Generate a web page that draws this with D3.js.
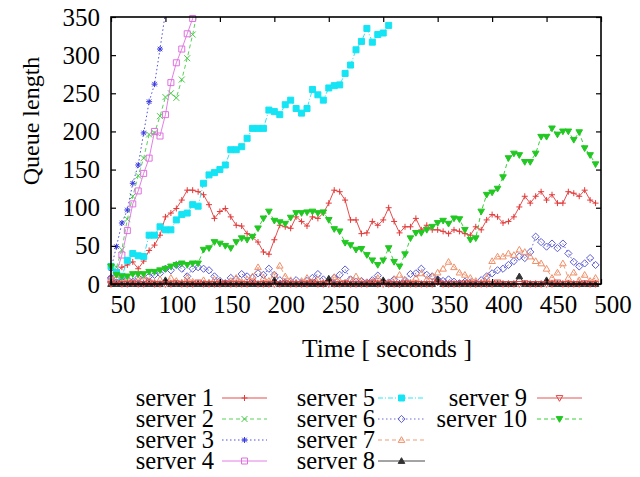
<!DOCTYPE html>
<html><head><meta charset="utf-8"><script src="https://cdn.jsdelivr.net/npm/d3@7"></script></head>
<body style="margin:0">
<svg id="chart" width="640" height="477"></svg>
<script>
// ---------------- DATA ----------------
const times = [50,55,60,65,70,75,80,85,90,95,100,105,110,115,120,125,130,135,140,145,
  150,155,160,165,170,175,180,185,190,195,200,205,210,215,220,225,230,235,240,245,
  250,255,260,265,270,275,280,285,290,295,300,305,310,315,320,325,330,335,340,345,
  350,355,360,365,370,375,380,385,390,395,400,405,410,415,420,425,430,435,440,445,
  450,455,460,465,470,475,480,485,490,495];

const xTicks = [50,100,150,200,250,300,350,400,450,500];
const yTicks = [0,50,100,150,200,250,300,350];

const server1 = [10,15,22,25,29,20,30,44,51,64,88,93,99,110,123,123,121,117,104,86,
  95,99,88,77,76,66,61,55,42,39,58,77,75,73,88,82,76,88,86,93,
  106,123,121,110,84,84,66,67,82,77,84,100,82,67,75,75,86,71,77,71,
  71,69,66,71,69,66,64,75,71,84,91,88,80,82,88,101,115,106,115,121,
  110,117,106,106,121,119,115,123,110,106];
const server2 = [5,22,45,85,115,142,165,196,198,220,245,250,244,268,296,327,362];
const server3 = [20,49,80,97,132,156,198,239,262,308,356];
const server4 = [5,15,38,70,105,122,145,165,200,194,222,264,290,308,328,348,378];
const server5 = [23,15,10,31,40,37,36,64,64,75,71,71,84,91,93,104,102,132,143,146,
  150,156,176,176,180,191,204,204,204,228,226,222,235,241,230,224,230,255,248,241,
  257,260,261,276,287,307,318,335,317,327,329,339];
const server6 = [8,2,3,6,3,8,5,10,12,14,20,18,25,20,10,20,22,20,18,10,
  4,1,8,6,13,10,8,14,12,20,12,5,2,3,5,1,4,8,13,6,
  3,8,12,19,6,3,4,2,5,11,3,2,6,0,5,13,14,20,12,10,
  6,4,6,3,1,3,2,1,5,10,14,18,20,25,30,36,34,42,62,55,
  49,53,47,53,40,29,23,27,34,25];
const server7 = [5,12,3,8,2,6,10,4,2,6,3,8,4,2,8,3,1,5,2,6,
  3,1,4,8,3,6,10,22,8,4,12,24,10,5,2,4,8,3,6,2,
  5,9,4,2,6,10,4,2,3,8,4,2,6,12,5,2,8,14,6,10,
  15,20,29,22,15,12,8,4,2,8,30,36,36,40,38,45,42,36,30,27,
  20,8,15,27,8,15,5,12,4,8];
const server8 = [0,0,0,0,0,0,0,0,0,0,5,0,0,0,0,0,0,0,0,0,
  0,0,0,0,0,0,0,0,0,0,5,0,0,0,0,0,0,0,0,0,
  7,0,0,0,0,0,0,0,0,0,5,0,0,0,0,0,0,0,0,0,
  6,0,0,0,0,0,0,0,0,0,0,0,0,0,0,10,0,0,0,0,
  5,0,0,0,0,0,0,0,0,0];
const server9 = [0,2,0,0,1,0,0,2,0,0,0,0,1,0,0,0,2,0,0,0,
  0,1,0,0,0,0,2,0,0,0,0,0,1,0,0,0,0,2,0,0,
  0,0,0,1,0,0,0,0,2,0,0,0,0,0,1,0,0,0,0,0,
  2,0,0,0,0,1,0,0,0,0,0,2,0,0,0,0,1,0,0,0,
  0,0,2,0,0,0,0,1,0,0];
const server10 = [23,12,10,10,13,13,13,16,16,18,20,23,25,27,25,27,27,45,47,55,
  53,50,47,55,60,58,62,73,86,95,83,81,79,87,93,93,94,95,93,94,
  84,72,69,54,51,45,46,38,31,25,31,47,29,23,39,60,67,67,71,75,
  80,83,79,86,85,71,58,60,95,117,120,125,140,165,171,169,160,160,171,193,
  193,204,196,200,200,189,199,178,169,157];

const seriesNames = ["server 1","server 2","server 3","server 4","server 5",
  "server 6","server 7","server 8","server 9","server 10"];
const seriesValues = [server1,server2,server3,server4,server5,server6,server7,server8,server9,server10];

// ---------------- STYLES ----------------
const FONT = "'Liberation Serif'";
const styles = [
  {color:"#e23a3a", dash:null,        marker:"plus"},
  {color:"#46cc46", dash:"4,3",       marker:"cross"},
  {color:"#3a3ae0", dash:"1.5,2.5",   marker:"star"},
  {color:"#e070e0", dash:null,        marker:"square"},
  {color:"#14e4f4", dash:"5,2,1,2",   marker:"squareFilled"},
  {color:"#5c5cd4", dash:"1.5,2.5",   marker:"diamond"},
  {color:"#f0906a", dash:"4,3",       marker:"triangle"},
  {color:"#333333", dash:null,        marker:"triangleFilled"},
  {color:"#e04444", dash:null,        marker:"invTriangle"},
  {color:"#22c822", dash:"4,3",       marker:"invTriangleFilled"}
];

function markerPath(type, r) {
  switch (type) {
    case "plus": return `M${-r},0H${r}M0,${-r}V${r}`;
    case "cross": return `M${-r},${-r}L${r},${r}M${-r},${r}L${r},${-r}`;
    case "star": { const q = r*0.75; return `M${-r},0H${r}M0,${-r}V${r}M${-q},${-q}L${q},${q}M${-q},${q}L${q},${-q}`; }
    case "square": case "squareFilled": return `M${-r},${-r}H${r}V${r}H${-r}Z`;
    case "diamond": return `M0,${-r*1.2}L${r*1.2},0L0,${r*1.2}L${-r*1.2},0Z`;
    case "triangle": case "triangleFilled": return `M0,${-r*1.1}L${r*1.1},${r*0.8}L${-r*1.1},${r*0.8}Z`;
    case "invTriangle": case "invTriangleFilled": return `M0,${r*1.1}L${r*1.1},${-r*0.8}L${-r*1.1},${-r*0.8}Z`;
  }
}
function isFilled(type){ return type==="squareFilled"||type==="triangleFilled"||type==="invTriangleFilled"; }

// ---------------- LAYOUT ----------------
const svg = d3.select("#chart");
svg.append("rect").attr("width",640).attr("height",477).attr("fill","#fff");

const L = 111, R = 601, T = 17, B = 284;
const x = d3.scaleLinear().domain([50,500]).range([L,R]);
const y = d3.scaleLinear().domain([0,350]).range([B,T]);

svg.append("defs").append("clipPath").attr("id","plotclip")
  .append("rect").attr("x",L).attr("y",T).attr("width",R-L).attr("height",B-T);

const plot = svg.append("g");
const line = d3.line().x(d=>x(d.t)).y(d=>y(d.v));

seriesValues.forEach((vals, i) => {
  const st = styles[i];
  const pts = vals.map((v,k)=>({t:times[k], v:v}));
  plot.append("path")
    .datum(pts)
    .attr("clip-path","url(#plotclip)")
    .attr("fill","none")
    .attr("stroke", st.color)
    .attr("stroke-width", 0.9)
    .attr("stroke-dasharray", st.dash)
    .attr("d", line);
  const visible = pts.filter(d => d.v <= 350 && d.t <= 500);
  plot.append("g").selectAll("path")
    .data(visible).join("path")
    .attr("transform", d=>`translate(${x(d.t)},${y(d.v)})`)
    .attr("d", markerPath(st.marker, 3))
    .attr("fill", isFilled(st.marker) ? st.color : "none")
    .attr("stroke", st.color)
    .attr("stroke-width", 1);
});

// ---------------- AXES (ticks via d3 axes, labels as plain texts) ----------------
function styleTicks(g){
  g.select(".domain").remove();
  g.selectAll("line").attr("stroke","#000").attr("stroke-width",1.2);
  g.selectAll("text").remove();
}
const gx = svg.append("g").attr("transform",`translate(0,${B})`)
  .call(d3.axisBottom(x).tickValues(xTicks).tickSize(-5));
styleTicks(gx);
const gxt = svg.append("g").attr("transform",`translate(0,${T})`)
  .call(d3.axisTop(x).tickValues(xTicks).tickSize(-5));
styleTicks(gxt);
const gy = svg.append("g").attr("transform",`translate(${L},0)`)
  .call(d3.axisLeft(y).tickValues(yTicks).tickSize(-5));
styleTicks(gy);
const gyr = svg.append("g").attr("transform",`translate(${R},0)`)
  .call(d3.axisRight(y).tickValues(yTicks).tickSize(-5));
styleTicks(gyr);

xTicks.forEach(t => {
  svg.append("text").attr("x", x(t) + 12).attr("y", B + 29).attr("font-size", 25)
    .attr("text-anchor","middle").style("font-family", FONT).text(t);
});
yTicks.forEach(v => {
  svg.append("text").attr("x", L - 11).attr("y", y(v) + 8.5).attr("font-size", 25)
    .attr("text-anchor","end").style("font-family", FONT).text(v);
});

// frame
svg.append("rect").attr("x",L).attr("y",T).attr("width",R-L).attr("height",B-T)
  .attr("fill","none").attr("stroke","#000").attr("stroke-width",1.6);

// titles
svg.append("text").attr("x",387).attr("y",357).attr("text-anchor","middle")
  .attr("font-size",25.5).style("font-family", FONT).text("Time [ seconds ]");
svg.append("text").attr("transform","translate(39,121) rotate(-90)").attr("text-anchor","middle")
  .attr("font-size",24).style("font-family", FONT).text("Queue length");

// ---------------- LEGEND ----------------
const legCols = [
  {textX:214, x0:222, x1:267},
  {textX:375, x0:378, x1:425},
  {textX:527, x0:537, x1:582}
];
const legRows = [406,427,448,469];
const legPos = [[0,0],[0,1],[0,2],[0,3],[1,0],[1,1],[1,2],[1,3],[2,0],[2,1]];
const leg = svg.append("g");
seriesNames.forEach((name,i)=>{
  const [c,r] = legPos[i];
  const col = legCols[c], base = legRows[r];
  const st = styles[i];
  leg.append("text").attr("x",col.textX).attr("y",base).attr("text-anchor","end")
    .attr("font-size",24.5).style("font-family", FONT).text(name);
  const ly = base - 8;
  leg.append("line").attr("x1",col.x0).attr("x2",col.x1).attr("y1",ly).attr("y2",ly)
    .attr("stroke",st.color).attr("stroke-width",0.9).attr("stroke-dasharray",st.dash);
  leg.append("path").attr("transform",`translate(${(col.x0+col.x1)/2},${ly})`)
    .attr("d",markerPath(st.marker,3))
    .attr("fill", isFilled(st.marker)?st.color:"none")
    .attr("stroke",st.color).attr("stroke-width",1);
});
</script>
</body>
</html>
